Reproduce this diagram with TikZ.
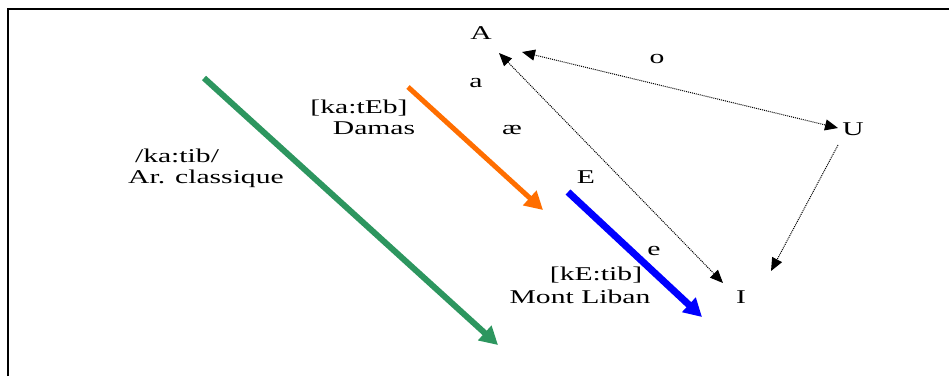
\documentclass[tikz,border=0pt]{standalone}
\usepackage{fontspec}
\setmainfont{Liberation Serif}
\usetikzlibrary{arrows.meta}
\definecolor{cgreen}{RGB}{45,150,95}
\definecolor{corange}{RGB}{255,110,0}
\definecolor{cblue}{RGB}{0,0,255}
\newcommand\sx[1]{\scalebox{1.52}[1]{#1}}
\begin{document}
\begin{tikzpicture}[x=1pt,y=-1pt,
  lbl/.style={inner sep=0pt,anchor=base,font=\fontsize{19.5}{22}\selectfont},
  fat/.style={line width=#1,-{Triangle[length=18pt,width=19pt]}},
  dots/.style={densely dotted,line width=1pt},
  tipd/.tip={Triangle[length=13pt,width=11pt]}]
\useasboundingbox (0,0) rectangle (949,376);
\draw[line width=2pt] (8,376) -- (8,9) -- (949,9);
% labels
\node[lbl] (A) at (481,39) {\sx{A}};
\node[lbl] (o) at (657,63) {\sx{o}};
\node[lbl] (a) at (476,87) {\sx{a}};
\node[lbl] (ae) at (512,134) {\sx{æ}};
\node[lbl] (U) at (853,135) {\sx{U}};
\node[lbl] (E) at (586,183) {\sx{E}};
\node[lbl] (e) at (654,255) {\sx{e}};
\node[lbl] (I) at (741,303) {\sx{I}};
\node[lbl] (kateb) at (359,113) {\sx{[ka:tEb]}};
\node[lbl] (damas) at (374,134) {\sx{Damas}};
\node[lbl] (katib) at (177,162) {\sx{/ka:tib/}};
\node[lbl] (arcl) at (206,183) {\sx{Ar. classique}};
\node[lbl] (ketib) at (596,280) {\sx{[kE:tib]}};
\node[lbl] (mont) at (580,303) {\sx{Mont Liban}};
% arrow end points
\coordinate (g1) at (204,78);  \coordinate (g2) at (498,345);
\coordinate (o1) at (408,87);  \coordinate (o2) at (543,210);
\coordinate (b1) at (568,192); \coordinate (b2) at (702,317);
\coordinate (au1) at (522,52); \coordinate (au2) at (838,128);
\coordinate (ai1) at (499,53); \coordinate (ai2) at (723,283);
\coordinate (ui1) at (838,145); \coordinate (ui2) at (771,271);
% thick arrows
\draw[fat=6pt,cgreen] (g1) -- (g2);
\draw[fat=5pt,corange] (o1) -- (o2);
\draw[fat=7pt,cblue] (b1) -- (b2);
% dotted arrows
\draw[dots,tipd-tipd] (au1) -- (au2);
\draw[dots,tipd-tipd] (ai1) -- (ai2);
\draw[dots,-tipd] (ui1) -- (ui2);
\end{tikzpicture}
\end{document}
